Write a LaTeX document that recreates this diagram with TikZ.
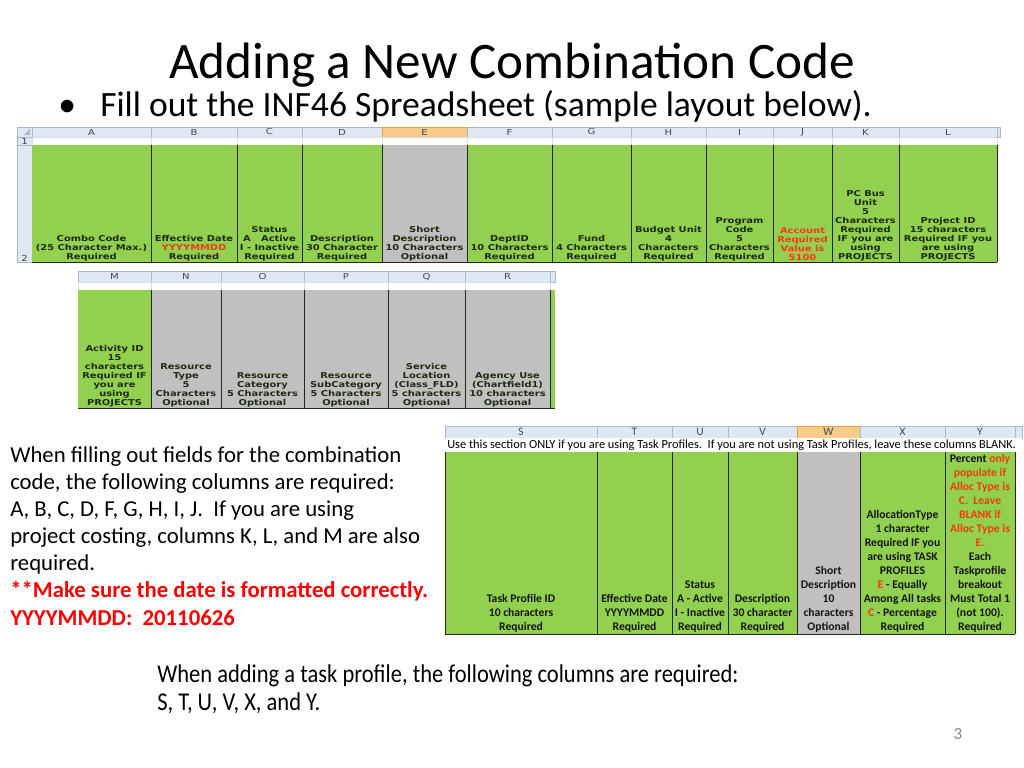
\documentclass[tikz,border=0pt]{standalone}
\usepackage{fontspec}
\setmainfont{Carlito}
\newfontfamily\cellfamily[FakeStretch=1.22]{DejaVu Sans}
\newfontfamily\narrowfamily[FakeStretch=0.88]{Carlito}
\definecolor{cellgreen}{HTML}{92D050}
\definecolor{cellgray}{HTML}{C0C0C0}
\definecolor{hdrfill}{HTML}{DFE7F2}
\definecolor{hdrline}{HTML}{A9B8CC}
\definecolor{hdrtext}{HTML}{3B4B5B}
\definecolor{selfill}{HTML}{F8CB8A}
\definecolor{selline}{HTML}{E8A040}
\definecolor{gridline}{HTML}{D6DEE8}
\definecolor{celltext}{HTML}{1E2B12}
\definecolor{cellred}{HTML}{F03C14}
\definecolor{tptext}{HTML}{141414}
\definecolor{tpred}{HTML}{F23A0A}
\definecolor{notered}{HTML}{FF0000}
\definecolor{pagegray}{HTML}{8A8A8A}
\begin{document}
\begin{tikzpicture}[x=0.703125pt, y=-0.703125pt, line join=round,
	hdr/.style={draw=hdrline, fill=hdrfill, line width=0.3pt},
	hdrsel/.style={draw=selline, fill=selfill, line width=0.3pt},
	blank/.style={draw=gridline, fill=white, line width=0.3pt},
	colname/.style={font=\cellfamily\fontsize{5.8}{6}\selectfont, text=hdrtext, inner sep=0pt},
	xl/.style={font=\cellfamily\bfseries\fontsize{5.7}{6.33}\selectfont, text=celltext, align=center, anchor=south, inner sep=0pt},
	tp/.style={font=\bfseries\fontsize{8.2}{9.84}\selectfont, text=tptext, align=center, anchor=south, inner sep=0pt},
	cellrule/.style={line width=0.6pt, draw=black!85}]
	\fill[white] (0,0) rectangle (1024,768);
	% title and bullet
	\node[anchor=base, inner sep=0pt, font=\fontsize{36}{43}\selectfont] (title) at (512,79) {Adding a New Combination Code};
	\node[anchor=base west, inner sep=0pt, font=\fontsize{25}{30}\selectfont] (dot) at (58,117) {•};
	\node[anchor=base west, inner sep=0pt, font=\fontsize{25}{30}\selectfont] (bullet) at (100,117) {Fill out the INF46 Spreadsheet (sample layout below).};
	% sheet 1 : A to L
	\draw[hdr] (17,127) rectangle (32,137); \fill[hdrline] (30,129)--(30,135)--(24,135)--cycle;
	\draw[hdr] (17,137) rectangle (32,145); \draw[hdr] (17,145) rectangle (32,262);
	\node[colname] (r1) at (24.5,141) {1}; \node[colname] (r2) at (24.5,258) {2};
	\foreach \xa/\xb/\col/\hs in {32/151/A/hdr,151/237/B/hdr,237/302/C/hdr,302/382/D/hdr,382/467/E/hdrsel,467/552/F/hdr,552/631/G/hdr,631/706/H/hdr,706/773/I/hdr,773/832/J/hdr,832/899/K/hdr,899/997/L/hdr}{
		\draw[\hs] (\xa,127) rectangle (\xb,137);
		\node[colname] (h-\col) at ({(\xa+\xb)/2},132) {\col};
		\draw[blank] (\xa,137) rectangle (\xb,145);}
	\draw[hdr] (997,127) rectangle (1000,137);
	\foreach \xa/\xb/\col/\fc/\txt in {
		32/151/A/cellgreen/{Combo Code\\(25 Character Max.)\\Required},
		151/237/B/cellgreen/{Effective Date\\{\color{cellred}YYYYMMDD}\\Required},
		237/302/C/cellgreen/{Status\\A \ \ Active\\I - Inactive\\Required},
		302/382/D/cellgreen/{Description\\30 Character\\Required},
		382/467/E/cellgray/{Short\\Description\\10 Characters\\Optional},
		467/552/F/cellgreen/{DeptID\\10 Characters\\Required},
		552/631/G/cellgreen/{Fund\\4 Characters\\Required},
		631/706/H/cellgreen/{Budget Unit\\4\\Characters\\Required},
		706/773/I/cellgreen/{Program\\Code\\5\\Characters\\Required},
		773/832/J/cellgreen/{\color{cellred}Account\\\color{cellred}Required\\\color{cellred}Value is\\\color{cellred}5100},
		832/899/K/cellgreen/{PC Bus\\Unit\\5\\Characters\\Required\\IF you are\\using\\PROJECTS},
		899/997/L/cellgreen/{Project ID\\15 characters\\Required IF you\\are using\\PROJECTS}}{
		\fill[\fc] (\xa,145) rectangle (\xb,262);
		\node[xl] (c-\col) at ({(\xa+\xb)/2},261) {\txt};}
	\foreach \x in {151,237,302,382,467,552,631,706,773,832,899,997}\draw[cellrule] (\x,145)--(\x,262);
	\draw[cellrule] (32,262)--(997,262);
	% sheet 2 : M to R
	\foreach \xa/\xb/\col in {78/151/M,151/221/N,221/304/O,304/388/P,388/465/Q,465/550/R}{
		\draw[hdr] (\xa,271) rectangle (\xb,282);
		\node[colname] (h-\col) at ({(\xa+\xb)/2},276.5) {\col};
		\draw[blank] (\xa,282) rectangle (\xb,290);}
	\draw[hdr] (550,271) rectangle (555,282);
	\foreach \xa/\xb/\col/\fc/\txt in {
		78/151/M/cellgreen/{Activity ID\\15\\characters\\Required IF\\you are\\using\\PROJECTS},
		151/221/N/cellgray/{Resource\\Type\\5\\Characters\\Optional},
		221/304/O/cellgray/{Resource\\Category\\5 Characters\\Optional},
		304/388/P/cellgray/{Resource\\SubCategory\\5 Characters\\Optional},
		388/465/Q/cellgray/{Service\\Location\\(Class\_FLD)\\5 characters\\Optional},
		465/550/R/cellgray/{Agency Use\\(Chartfield1)\\10 characters\\Optional}}{
		\fill[\fc] (\xa,290) rectangle (\xb,408);
		\node[xl] (c-\col) at ({(\xa+\xb)/2},407) {\txt};}
	\fill[cellgreen] (550,290) rectangle (555,408);
	\foreach \x in {151,221,304,388,465,550}\draw[cellrule] (\x,290)--(\x,408);
	\draw[cellrule] (78,408)--(555,408);
	% left notes
	\node[anchor=north west, align=left, inner sep=0pt, font=\fontsize{16}{19.1}\selectfont] (combo) at (10,446) {When filling out fields for the combination\\code, the following columns are required:\\A, B, C, D, F, G, H, I, J.\ \ If you are using\\project costing, columns K, L, and M are also\\required.\\{\color{notered}\bfseries **Make sure the date is formatted correctly.}\\{\color{notered}\bfseries YYYYMMDD:\ \ 20110626}};
	% sheet 3 : S to Y
	\foreach \xa/\xb/\col/\hs in {445/597/S/hdr,597/672/T/hdr,672/728/U/hdr,728/797/V/hdr,797/860/W/hdrsel,860/945/X/hdr,945/1015/Y/hdr}{
		\draw[\hs] (\xa,426) rectangle (\xb,438);
		\node[font=\fontsize{8}{9}\selectfont, text=hdrtext, inner sep=0pt] (h-\col) at ({(\xa+\xb)/2},432) {\col};}
	\draw[hdr] (1015,426) rectangle (1022,438);
	\fill[white] (445,438) rectangle (1022,452);
	\node[anchor=west, inner sep=0pt, font=\fontsize{8.7}{9}\selectfont] (only) at (447,445) {Use this section ONLY if you are using Task Profiles.\ \ If you are not using Task Profiles, leave these columns BLANK.};
	\foreach \xa/\xb/\col/\fc/\txt in {
		445/597/S/cellgreen/{Task Profile ID\\10 characters\\Required},
		597/672/T/cellgreen/{Effective Date\\YYYYMMDD\\Required},
		672/728/U/cellgreen/{Status\\A - Active\\I - Inactive\\Required},
		728/797/V/cellgreen/{Description\\30 character\\Required},
		797/860/W/cellgray/{Short\\Description\\10\\characters\\Optional},
		860/945/X/cellgreen/{AllocationType\\1 character\\Required IF you\\are using TASK\\PROFILES\\{\color{tpred}E} - Equally\\Among All tasks\\{\color{tpred}C} - Percentage\\Required},
		945/1015/Y/cellgreen/{Percent {\color{tpred}only}\\{\color{tpred}populate if}\\{\color{tpred}Alloc Type is}\\{\color{tpred}C.\ \ Leave}\\{\color{tpred}BLANK if}\\{\color{tpred}Alloc Type is}\\{\color{tpred}E.}\\Each\\Taskprofile\\breakout\\Must Total 1\\(not 100).\\Required}}{
		\fill[\fc] (\xa,452) rectangle (\xb,634);
		\node[tp] (c-\col) at ({(\xa+\xb)/2},633) {\txt};}
	\foreach \x in {445,597,672,728,797,860,945,1015}\draw[cellrule] (\x,452)--(\x,634);
	\draw[cellrule] (445,634)--(1015,634);
	% task profile note and page number
	\node[anchor=north west, align=left, inner sep=0pt, font=\narrowfamily\fontsize{18}{19.7}\selectfont] (task) at (157,664) {When adding a task profile, the following columns are required:\\S, T, U, V, X, and Y.};
	\node[anchor=base, font=\fontsize{12}{14}\selectfont, text=pagegray] (page) at (958,739) {3};
\end{tikzpicture}
\end{document}
